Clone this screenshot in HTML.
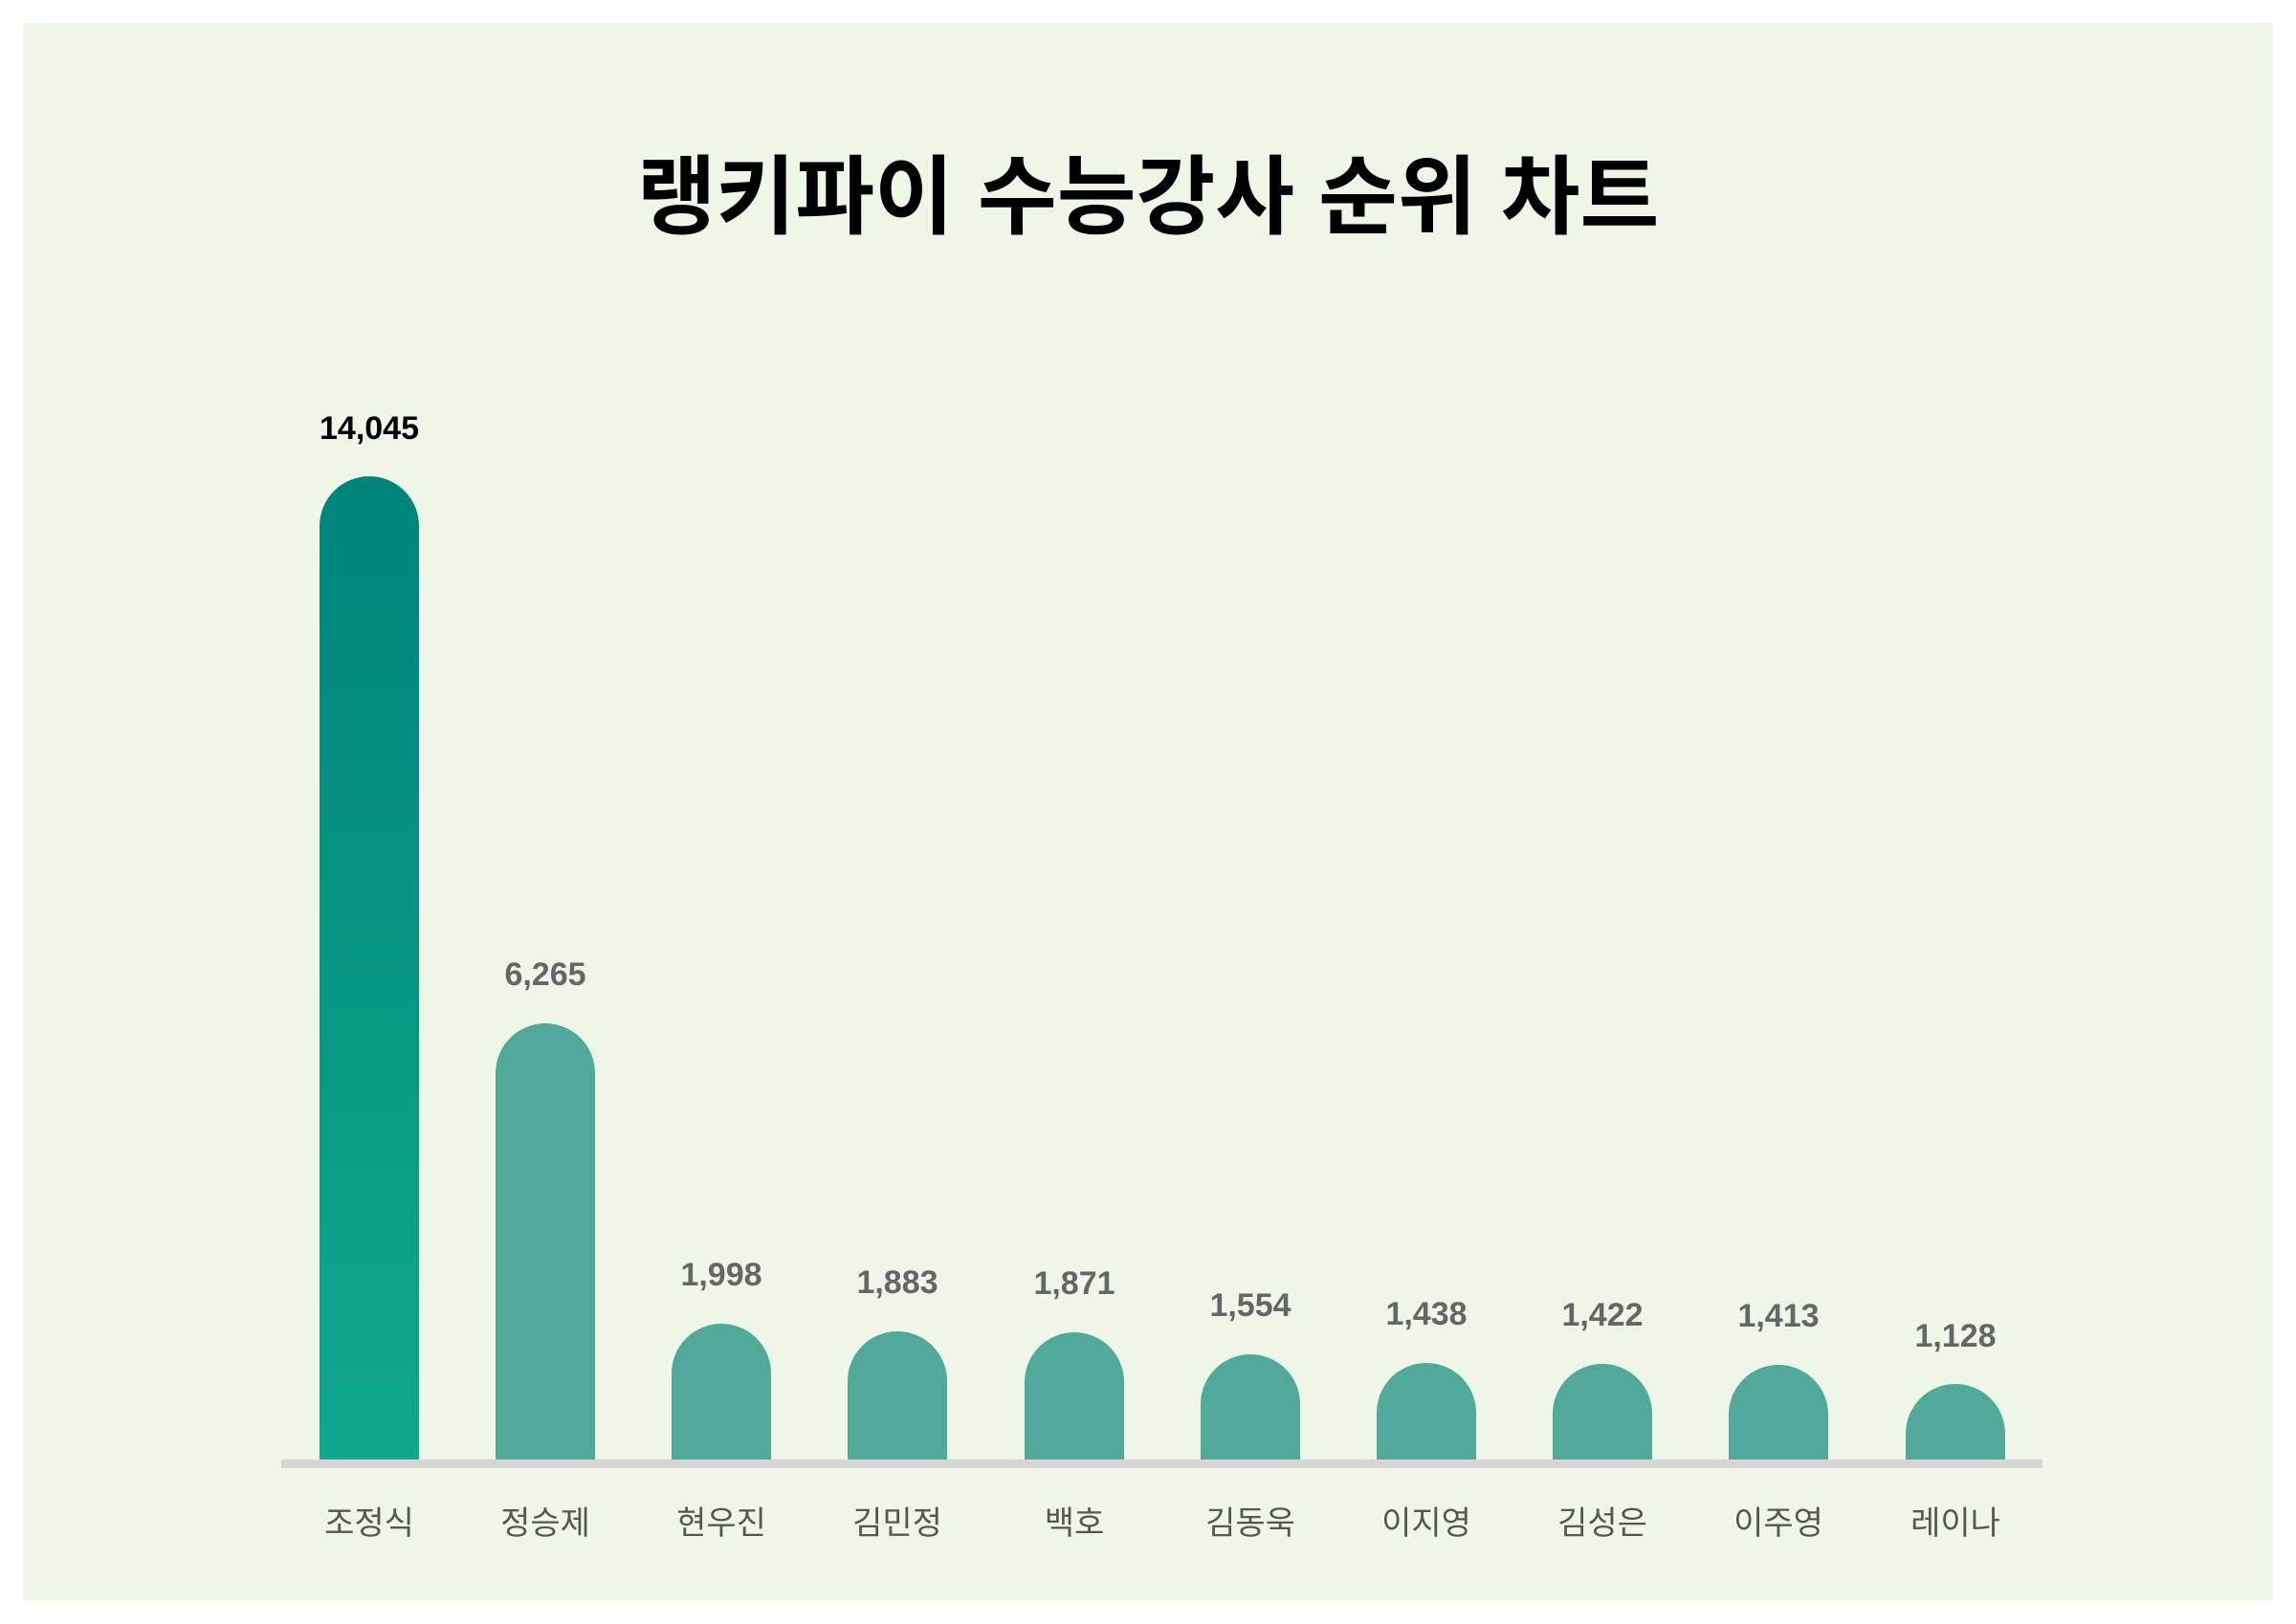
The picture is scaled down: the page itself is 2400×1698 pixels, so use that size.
<!DOCTYPE html>
<html><head><meta charset="utf-8"><style>
body{margin:0;background:#fff;}
svg{display:block}
</style></head><body>
<svg width="2400" height="1698" viewBox="0 0 2400 1698" xmlns="http://www.w3.org/2000/svg" font-family="'Liberation Sans','Noto Sans CJK KR',sans-serif">
<defs><linearGradient id="g1" x1="0" y1="0" x2="0" y2="1"><stop offset="0" stop-color="#00847a"/><stop offset="1" stop-color="#0fa88c"/></linearGradient></defs>
<rect x="24" y="24" width="2352" height="1649" fill="#eef6e8"/>
<text x="1200" y="237" text-anchor="middle" font-size="90" font-weight="bold" fill="#000">랭키파이 수능강사 순위 차트</text>
<rect x="294" y="1526" width="1841" height="9" fill="#d6d6d6"/>
<g fill="#50a999">
<path d="M334,1526 V550 A52,52 0 0 1 438,550 V1526 Z" fill="url(#g1)"/>
<path d="M518,1526 V1122 A52,52 0 0 1 622,1122 V1526 Z"/>
<path d="M702,1526 V1436 A52,52 0 0 1 806,1436 V1526 Z"/>
<path d="M886,1526 V1444 A52,52 0 0 1 990,1444 V1526 Z"/>
<path d="M1071,1526 V1445 A52,52 0 0 1 1175,1445 V1526 Z"/>
<path d="M1255,1526 V1468 A52,52 0 0 1 1359,1468 V1526 Z"/>
<path d="M1439,1526 V1477 A52,52 0 0 1 1543,1477 V1526 Z"/>
<path d="M1623,1526 V1478 A52,52 0 0 1 1727,1478 V1526 Z"/>
<path d="M1807,1526 V1479 A52,52 0 0 1 1911,1479 V1526 Z"/>
<path d="M1992,1526 V1499 A52,52 0 0 1 2096,1499 V1526 Z"/>
</g>
<g font-size="34" font-weight="bold" text-anchor="middle" fill="#666">
<text x="386" y="459" fill="#000">14,045</text>
<text x="570" y="1030">6,265</text>
<text x="754" y="1344">1,998</text>
<text x="938" y="1352">1,883</text>
<text x="1123" y="1353">1,871</text>
<text x="1307" y="1376">1,554</text>
<text x="1491" y="1385">1,438</text>
<text x="1675" y="1386">1,422</text>
<text x="1859" y="1387">1,413</text>
<text x="2044" y="1408">1,128</text>
</g>
<g font-size="34" text-anchor="middle" fill="#5a5550">
<text x="386" y="1604">조정식</text>
<text x="570" y="1604">정승제</text>
<text x="754" y="1604">현우진</text>
<text x="938" y="1604">김민정</text>
<text x="1123" y="1604">백호</text>
<text x="1307" y="1604">김동욱</text>
<text x="1491" y="1604">이지영</text>
<text x="1675" y="1604">김성은</text>
<text x="1859" y="1604">이주영</text>
<text x="2044" y="1604">레이나</text>
</g>
</svg>
</body></html>
